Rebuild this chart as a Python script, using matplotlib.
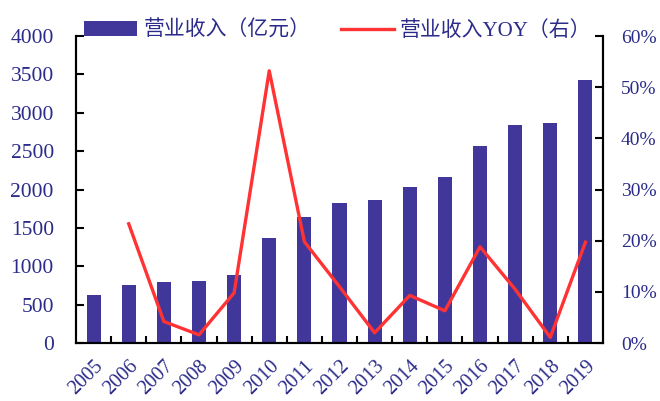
import matplotlib
matplotlib.use("Agg")
import matplotlib.pyplot as plt
from matplotlib.ticker import FuncFormatter, MultipleLocator, FixedLocator

plt.rcParams['font.family'] = ['Liberation Serif', 'Noto Sans CJK SC', 'DejaVu Sans']

years = ['2005', '2006', '2007', '2008', '2009', '2010', '2011', '2012', '2013',
         '2014', '2015', '2016', '2017', '2018', '2019']
revenue = [620, 760, 795, 808, 886, 1368, 1642, 1824, 1863, 2033, 2163, 2567, 2840, 2866, 3427]
yoy_years = years[1:]
yoy = [23.3, 4.2, 1.6, 9.8, 53.2, 19.8, 11.0, 2.0, 9.3, 6.3, 18.8, 10.5, 1.1, 19.7]

bar_color = '#41379A'
line_color = '#FF3333'
text_color = '#2B2B8A'

fig = plt.figure(figsize=(6.6, 4.01), dpi=100)
ax = fig.add_axes([0.1152, 0.1446, 0.9136 - 0.1152, 0.9102 - 0.1446])
x = list(range(len(years)))
bars = ax.bar(x, revenue, width=0.4, color=bar_color, label='营业收入（亿元）', zorder=2)
ax.set_xlim(-0.5, len(years) - 0.5)
ax.set_ylim(0, 4000)
ax.yaxis.set_major_locator(MultipleLocator(500))

ax2 = ax.twinx()
xi = [years.index(y) for y in yoy_years]
line, = ax2.plot(xi, yoy, color=line_color, lw=2.4, label='营业收入YOY（右）', zorder=3)
ax2.set_ylim(0, 60)
ax2.yaxis.set_major_locator(MultipleLocator(10))
ax2.yaxis.set_major_formatter(FuncFormatter(lambda v, p: f'{int(v)}%'))

for a in (ax, ax2):
    a.spines['top'].set_visible(False)
    for s in ('left', 'right', 'bottom'):
        a.spines[s].set_linewidth(1.5)
        a.spines[s].set_color('black')

ax.set_xticks(x)
ax.set_xticklabels(years, rotation=45, ha='right', rotation_mode='anchor')
ax.xaxis.set_minor_locator(FixedLocator([i + 0.5 for i in range(len(years) - 1)]))
ax.tick_params(axis='x', which='major', length=0, pad=10, labelsize=14.5, labelcolor=text_color)
ax.tick_params(axis='x', which='minor', direction='in', length=5, width=1.5)
ax.tick_params(axis='y', direction='in', length=6, width=1.5, labelsize=15.5, labelcolor=text_color, pad=16)
ax2.tick_params(axis='y', direction='in', length=6, width=1.5, labelsize=14, labelcolor=text_color, pad=13)

fig.legend(handles=[bars, line], loc='upper center', bbox_to_anchor=(0.512, 0.995), ncol=2,
           frameon=False, fontsize=15, handlelength=2.55, handleheight=0.7,
           columnspacing=1.45, handletextpad=0.3, labelcolor=text_color)

fig.savefig('out.png', dpi=100)
